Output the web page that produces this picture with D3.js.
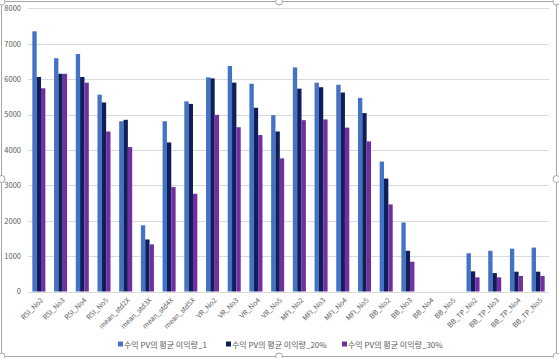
<!DOCTYPE html>
<html><head><meta charset="utf-8">
<script src="https://cdn.jsdelivr.net/npm/d3@7"></script>
<style>body{margin:0;background:#fff}svg{display:block}text{font-family:"Noto Sans CJK KR","Noto Sans",sans-serif}</style>
</head><body><svg id="c" width="559" height="358"></svg>
<script>
const categories = ["RSI_No2","RSI_No3","RSI_No4","RSI_No5","mean_std2X","mean_std3X","mean_std4X","mean_std5X","VR_No2","VR_No3","VR_No4","VR_No5","MFI_No2","MFI_No3","MFI_No4","MFI_No5","BB_No2","BB_No3","BB_No4","BB_No5","BB_TP_No2","BB_TP_No3","BB_TP_No4","BB_TP_No5"];
const seriesNames = ["수익 PV의 평균 이익량_1","수익 PV의 평균 이익량_20%","수익 PV의 평균 이익량_30%"];
const series1 = [7350,6590,6710,5560,4810,1870,4810,5370,6050,6370,5870,4980,6330,5900,5840,5470,3670,1950,0,0,1080,1150,1210,1240];
const series20 = [6060,6150,6060,5340,4850,1470,4210,5300,6020,5900,5190,4520,5730,5770,5620,5040,3190,1150,0,0,570,520,560,560];
const series30 = [5740,6150,5900,4520,4080,1330,2950,2760,4990,4640,4420,3760,4840,4860,4630,4240,2460,840,0,0,400,400,440,440];
const yTicks = [0,1000,2000,3000,4000,5000,6000,7000,8000];
const colors = ["#4472C4","#0E1E5B","#7030A0"];

const svg = d3.select("#c");
const allSeries = [series1, series20, series30];
const x = d3.scaleBand().domain(categories).range([28,549]).paddingInner(0.4).paddingOuter(0.2);
const xs = d3.scaleBand().domain([0,1,2]).range([0,x.bandwidth()]);
const y = d3.scaleLinear().domain([0,8000]).range([291.5,8.3]);

// gridlines
svg.append("g").selectAll("line").data(yTicks).join("line")
  .attr("x1",28).attr("x2",549).attr("y1",d=>Math.round(y(d))+0.5).attr("y2",d=>Math.round(y(d))+0.5)
  .attr("stroke","#d9d9d9").attr("stroke-width",1);

// y labels
const yAxis = d3.axisLeft(y).tickValues(yTicks).tickSize(0).tickPadding(0).tickFormat(d3.format("d"));
const ga = svg.append("g").attr("transform","translate(21,0)").call(yAxis);
ga.select(".domain").remove();
ga.selectAll("text").attr("fill","#595959").style("font-size","7.5px");

// bars
allSeries.forEach((vals,si)=>{
  svg.append("g").selectAll("rect").data(vals).join("rect")
    .attr("x",(d,i)=>x(categories[i])+xs(si))
    .attr("width",xs.bandwidth())
    .attr("y",d=>y(d))
    .attr("height",d=>y(0)-y(d))
    .attr("fill",colors[si]);
});

// x labels
const xAxis = d3.axisBottom(x).tickSize(0).tickPadding(0);
const gx = svg.append("g").attr("transform","translate(0,299)").call(xAxis);
gx.select(".domain").remove();
gx.selectAll("text").attr("fill","#595959").style("font-size","7px")
  .attr("text-anchor","end").attr("dy","0.35em").attr("dx",0)
  .attr("transform","translate(3,0) rotate(-45)").attr("y",0);

// legend
const legX = [118,226,342];
const lg = svg.append("g");
seriesNames.forEach((n,i)=>{
  lg.append("rect").attr("x",legX[i]).attr("y",341.5).attr("width",5).attr("height",5).attr("fill",colors[i]);
  lg.append("text").attr("x",legX[i]+6).attr("y",347.5).attr("fill","#595959").style("font-size","8px").text(n);
});

// frame
svg.append("rect").attr("x",1.5).attr("y",1.5).attr("width",555).attr("height",355)
  .attr("fill","none").attr("stroke","#a6a6a6");
const handles = [[1.5,1.5],[556.5,1.5],[1.5,356.5],[556.5,356.5],[279,356.5],[556.5,179],[279,1.5],[1.5,179]];
svg.append("g").selectAll("circle").data(handles).join("circle")
  .attr("cx",d=>d[0]).attr("cy",d=>d[1]).attr("r",3.5)
  .attr("fill","#fff").attr("stroke","#a6a6a6");
</script></body></html>
